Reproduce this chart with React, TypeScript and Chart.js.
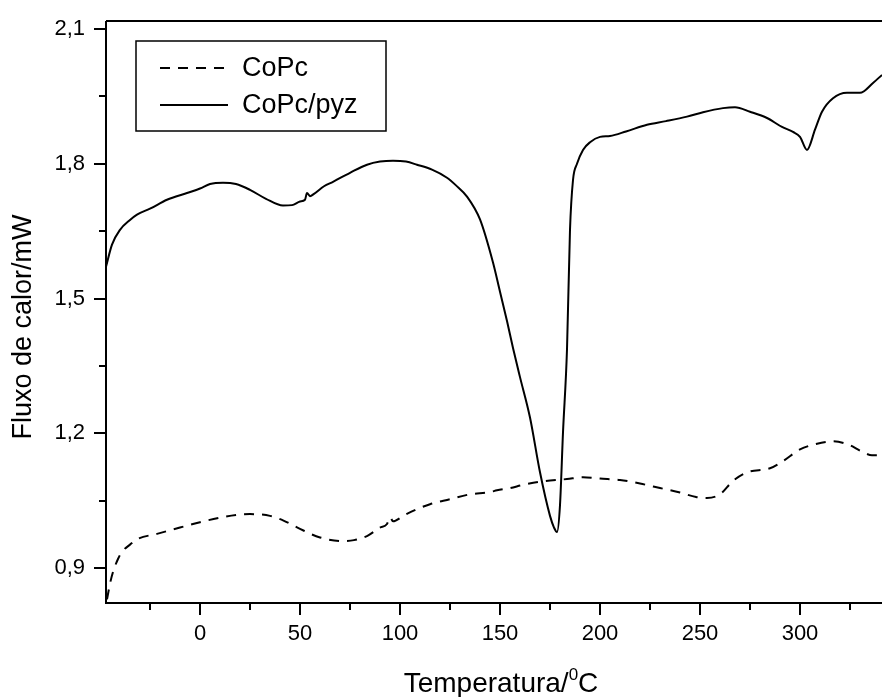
import React, { useEffect, useRef } from 'react';
import { Chart, registerables } from 'chart.js';

Chart.register(...registerables);

// ---- data ----
const TEMP_PYZ = [
  -47, -44, -40, -35, -31.5, -25, -16.5, -6.5, 0, 5, 11.5, 18, 25, 33, 41.5, 46, 50, 52.5, 53.5, 55, 57,
  62, 66.5, 75, 83.5, 90, 96.5, 103, 108.5, 116, 123.5, 128, 133.5, 140, 146.5, 150, 153.5, 156.5, 160,
  165, 170, 175, 177, 178.5, 180, 181.5, 183.5, 185, 186.5, 188.5, 191.5, 195, 200, 205, 213, 223.5, 233,
  243.5, 251.5, 261.5, 267.5, 275, 283.5, 291, 296.5, 300, 303.5, 307.5, 311, 316.5, 323.5, 330, 336.5, 341,
];
const FLUX_PYZ = [
  1.571, 1.62, 1.653, 1.675, 1.687, 1.7, 1.72, 1.735, 1.745, 1.755, 1.758, 1.755, 1.742, 1.722, 1.707, 1.708,
  1.716, 1.72, 1.735, 1.728, 1.733, 1.75, 1.76, 1.78, 1.798, 1.805, 1.807, 1.805, 1.798, 1.787, 1.769, 1.752,
  1.727, 1.676, 1.58, 1.515, 1.45, 1.39, 1.325, 1.235, 1.113, 1.016, 0.99, 0.98, 1.04, 1.202, 1.387, 1.653,
  1.764, 1.8, 1.831, 1.848, 1.86, 1.862, 1.872, 1.887, 1.895, 1.905, 1.915, 1.924, 1.926, 1.916, 1.902,
  1.882, 1.871, 1.86, 1.831, 1.876, 1.916, 1.946, 1.958, 1.958, 1.98, 1.998,
];
const TEMP_COPC = [
  -46.5, -45, -43.5, -41, -39, -35, -31.5, -21.5, -10, 0, 10, 18, 25, 35, 42, 50, 60, 71.5, 77, 83.5, 90,
  93.5, 95, 96.5, 102, 108.5, 115, 125, 135, 145, 148.5, 155, 161.5, 170, 183.5, 191.5, 200, 210, 220, 230,
  240, 248, 253.5, 260, 266.5, 273.5, 285, 291.5, 300, 308, 316.5, 323.5, 331.5, 336, 341,
];
const FLUX_COPC = [
  0.83, 0.865, 0.891, 0.92, 0.936, 0.952, 0.964, 0.976, 0.99, 1.002, 1.012, 1.018, 1.02, 1.016, 1.005, 0.987,
  0.968, 0.96, 0.962, 0.971, 0.99, 0.998, 1.013, 1.004, 1.017, 1.031, 1.042, 1.053, 1.064, 1.069, 1.073,
  1.078, 1.085, 1.092, 1.098, 1.102, 1.099, 1.096, 1.088, 1.078, 1.068, 1.058, 1.056, 1.064, 1.094, 1.113,
  1.122, 1.138, 1.164, 1.176, 1.182, 1.176, 1.158, 1.151, 1.151,
];

const SERIES_LABELS = ['CoPc', 'CoPc/pyz'];
const X_TICKS = [0, 50, 100, 150, 200, 250, 300];
const X_MINOR = [-25, 25, 75, 125, 175, 225, 275, 325];
const Y_TICKS = [0.9, 1.2, 1.5, 1.8, 2.1];
const Y_MINOR = [1.05, 1.35, 1.65, 1.95];
const X_MIN = -47;
const X_MAX = 341;
const Y_MIN = 0.822;
const Y_MAX = 2.118;
const X_TITLE_MAIN = 'Temperatura/';
const X_TITLE_SUP = '0';
const X_TITLE_END = 'C';
const Y_TITLE = 'Fluxo de calor/mW';

const FONT = '"Liberation Sans", Arial, Helvetica, sans-serif';
const DASH = [10, 8];

const framePlugin = {
  id: 'frameAndLegend',
  afterDraw(chart: any) {
    const { ctx, chartArea: a, scales } = chart;
    const xs = scales.x;
    const ys = scales.y;
    ctx.save();
    ctx.strokeStyle = '#000';
    ctx.lineWidth = 2;
    ctx.setLineDash([]);
    ctx.beginPath();
    ctx.moveTo(a.left, a.top);
    ctx.lineTo(a.left, a.bottom);
    ctx.lineTo(a.right + 2, a.bottom);
    ctx.moveTo(a.left, a.top);
    ctx.lineTo(a.right + 2, a.top);
    ctx.stroke();

    // ticks
    ctx.beginPath();
    X_TICKS.forEach((v) => {
      const p = Math.round(xs.getPixelForValue(v));
      ctx.moveTo(p, a.bottom);
      ctx.lineTo(p, a.bottom + 12);
    });
    X_MINOR.forEach((v) => {
      const p = Math.round(xs.getPixelForValue(v));
      ctx.moveTo(p, a.bottom);
      ctx.lineTo(p, a.bottom + 7);
    });
    Y_TICKS.forEach((v) => {
      const p = Math.round(ys.getPixelForValue(v));
      ctx.moveTo(a.left, p);
      ctx.lineTo(a.left - 12, p);
    });
    Y_MINOR.forEach((v) => {
      const p = Math.round(ys.getPixelForValue(v));
      ctx.moveTo(a.left, p);
      ctx.lineTo(a.left - 7, p);
    });
    ctx.stroke();

    // legend box
    ctx.lineWidth = 1.5;
    ctx.strokeRect(136, 41, 250, 90);
    const rows = [68, 105];
    chart.data.datasets.forEach((ds: any, i: number) => {
      ctx.save();
      ctx.lineWidth = 2;
      ctx.setLineDash(ds.borderDash || []);
      ctx.beginPath();
      ctx.moveTo(160, rows[i]);
      ctx.lineTo(228, rows[i]);
      ctx.stroke();
      ctx.restore();
      ctx.fillStyle = '#000';
      ctx.font = `27px ${FONT}`;
      ctx.textAlign = 'left';
      ctx.textBaseline = 'middle';
      ctx.fillText(ds.label, 242, rows[i] + 1);
    });

    // axis titles
    ctx.fillStyle = '#000';
    ctx.textBaseline = 'alphabetic';
    ctx.font = `28px ${FONT}`;
    const w1 = ctx.measureText(X_TITLE_MAIN).width;
    const w3 = ctx.measureText(X_TITLE_END).width;
    ctx.font = `17px ${FONT}`;
    const w2 = ctx.measureText(X_TITLE_SUP).width;
    const total = w1 + w2 + w3;
    let tx = 501 - total / 2;
    const base = 692;
    ctx.font = `28px ${FONT}`;
    ctx.textAlign = 'left';
    ctx.fillText(X_TITLE_MAIN, tx, base);
    tx += w1;
    ctx.font = `17px ${FONT}`;
    ctx.fillText(X_TITLE_SUP, tx, base - 12);
    tx += w2;
    ctx.font = `28px ${FONT}`;
    ctx.fillText(X_TITLE_END, tx, base);

    ctx.save();
    ctx.translate(24, 327);
    ctx.rotate(-Math.PI / 2);
    ctx.textAlign = 'center';
    ctx.textBaseline = 'middle';
    ctx.font = `27px ${FONT}`;
    ctx.fillText(Y_TITLE, 0, 0);
    ctx.restore();

    ctx.restore();
  },
};

export default function App() {
  const ref = useRef<HTMLCanvasElement | null>(null);
  useEffect(() => {
    if (!ref.current) return;
    const chart = new Chart(ref.current, {
      type: 'line',
      data: {
        datasets: [
          {
            label: SERIES_LABELS[0],
            data: TEMP_COPC.map((t, i) => ({ x: t, y: FLUX_COPC[i] })),
            borderColor: '#000',
            borderWidth: 2,
            borderDash: DASH,
            pointRadius: 0,
            fill: false,
            cubicInterpolationMode: 'monotone',
          },
          {
            label: SERIES_LABELS[1],
            data: TEMP_PYZ.map((t, i) => ({ x: t, y: FLUX_PYZ[i] })),
            borderColor: '#000',
            borderWidth: 2,
            pointRadius: 0,
            fill: false,
            cubicInterpolationMode: 'monotone',
          },
        ],
      },
      options: {
        animation: false,
        responsive: false,
        maintainAspectRatio: false,
        layout: { padding: { top: 21, right: 0, left: 0, bottom: 0 } },
        plugins: { legend: { display: false }, tooltip: { enabled: false } },
        scales: {
          x: {
            type: 'linear',
            min: X_MIN,
            max: X_MAX,
            grid: { display: false },
            border: { display: false },
            afterBuildTicks: (s: any) => {
              s.ticks = X_TICKS.map((v) => ({ value: v }));
            },
            afterFit: (s: any) => {
              s.height = 94;
              s.paddingLeft = 0;
              s.paddingRight = 0;
            },
            ticks: {
              color: '#000',
              font: { family: FONT, size: 22 },
              padding: 10,
              maxRotation: 0,
              autoSkip: false,
              callback: (v: any) => String(v),
            },
          },
          y: {
            type: 'linear',
            min: Y_MIN,
            max: Y_MAX,
            grid: { display: false },
            border: { display: false },
            afterBuildTicks: (s: any) => {
              s.ticks = Y_TICKS.map((v) => ({ value: v }));
            },
            afterFit: (s: any) => {
              s.width = 106;
              s.paddingTop = 0;
              s.paddingBottom = 0;
            },
            ticks: {
              color: '#000',
              font: { family: FONT, size: 22 },
              padding: 13,
              autoSkip: false,
              callback: (v: any) => Number(v).toFixed(1).replace('.', ','),
            },
          },
        },
      },
      plugins: [framePlugin],
    } as any);
    return () => chart.destroy();
  }, []);
  return (
    <div style={{ position: 'fixed', left: 0, top: 0, width: 882, height: 697, background: '#fff', overflow: 'hidden' }}>
      <canvas ref={ref} width={882} height={697} style={{ width: 882, height: 697, display: 'block' }} />
    </div>
  );
}
